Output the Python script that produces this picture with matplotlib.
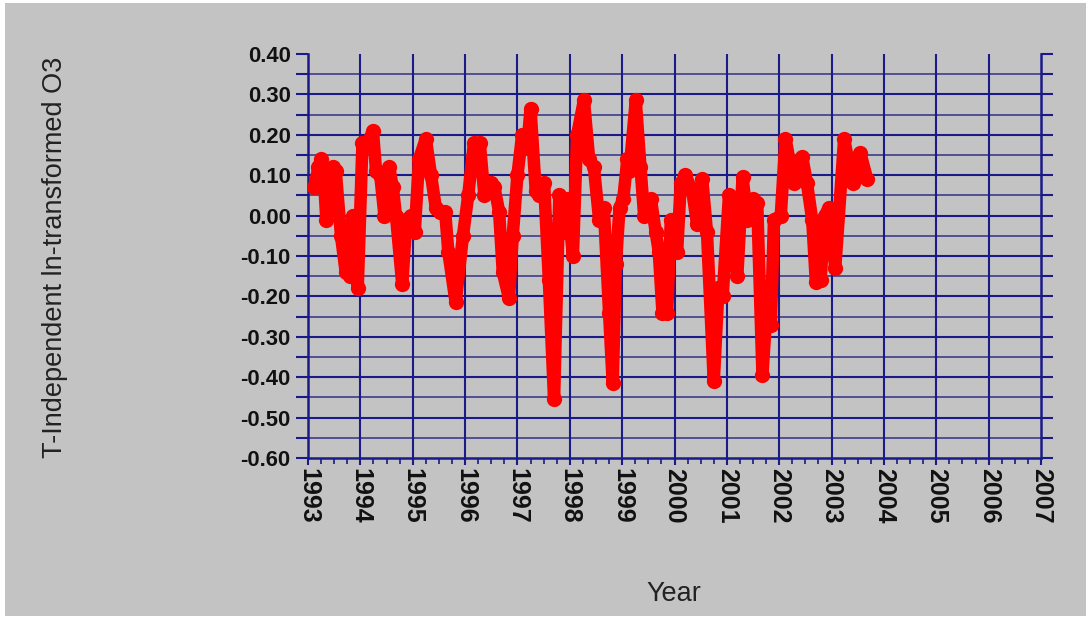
import matplotlib
matplotlib.use("Agg")
import matplotlib.pyplot as plt
from matplotlib.patches import Rectangle
from matplotlib.ticker import FixedLocator, FixedFormatter, MultipleLocator
import numpy as np

# Time (decimal year) and T-independent ln-transformed O3 values
years = [
    1993.12, 1993.20, 1993.25, 1993.30, 1993.35, 1993.40, 1993.47, 1993.53,
    1993.63, 1993.72, 1993.80, 1993.85, 1993.95,
    1994.04, 1994.14, 1994.24, 1994.30, 1994.38, 1994.46, 1994.55, 1994.62,
    1994.68, 1994.80, 1994.88, 1994.96,
    1995.04, 1995.12, 1995.25, 1995.35, 1995.44, 1995.52, 1995.62, 1995.68,
    1995.82, 1995.96,
    1996.06, 1996.17, 1996.28, 1996.37, 1996.50, 1996.56, 1996.65, 1996.72,
    1996.84, 1996.91,
    1997.00, 1997.09, 1997.19, 1997.25, 1997.35, 1997.42, 1997.51, 1997.60,
    1997.70, 1997.80, 1997.89, 1997.96,
    1998.06, 1998.14, 1998.27, 1998.37, 1998.46, 1998.56, 1998.65, 1998.75,
    1998.82, 1998.88, 1998.95,
    1999.02, 1999.10, 1999.14, 1999.26, 1999.35, 1999.42, 1999.55, 1999.64,
    1999.70, 1999.77, 1999.86, 1999.93,
    2000.05, 2000.12, 2000.21, 2000.34, 2000.43, 2000.53, 2000.62, 2000.75,
    2000.84, 2000.92,
    2001.04, 2001.20, 2001.30, 2001.39, 2001.49, 2001.58, 2001.68, 2001.74,
    2001.84, 2001.90,
    2002.03, 2002.12, 2002.28, 2002.44, 2002.53, 2002.63, 2002.70, 2002.79,
    2002.87, 2002.95,
    2003.07, 2003.24, 2003.40, 2003.55, 2003.68,
]
o3_values = [
    0.07, 0.12, 0.14, 0.10, -0.01, 0.06, 0.12, 0.11,
    -0.05, -0.14, -0.15, 0.00, -0.18,
    0.18, 0.18, 0.21, 0.11, 0.10, 0.00, 0.12, 0.07,
    0.00, -0.17, -0.01, 0.00,
    -0.04, 0.14, 0.19, 0.10, 0.02, 0.01, 0.01, -0.09,
    -0.215, -0.05,
    0.05, 0.18, 0.18, 0.05, 0.08, 0.07, 0.01, -0.14,
    -0.205, -0.05,
    0.10, 0.20, 0.17, 0.265, 0.06, 0.05, 0.08, -0.16,
    -0.455, 0.05, -0.04, 0.04,
    -0.10, 0.20, 0.285, 0.14, 0.12, -0.01, 0.02, -0.24,
    -0.415, -0.12, 0.02,
    0.04, 0.14, 0.11, 0.285, 0.12, 0.00, 0.04, -0.04,
    -0.09, -0.24, -0.24, -0.01,
    -0.09, 0.08, 0.10, 0.06, -0.02, 0.09, -0.04, -0.41,
    -0.18, -0.20,
    0.05, -0.15, 0.095, -0.01, 0.04, 0.03, -0.395, -0.27,
    -0.27, -0.01,
    0.00, 0.19, 0.08, 0.145, 0.08, -0.01, -0.165, -0.16,
    0.00, 0.02,
    -0.13, 0.19, 0.08, 0.155, 0.09,
]

year_ticks = list(range(1993, 2008))
value_ticks = [-0.60, -0.50, -0.40, -0.30, -0.20, -0.10, 0.00, 0.10, 0.20, 0.30, 0.40]
value_labels = [f"{v:.2f}" for v in value_ticks]

BG = "#c3c3c3"
NAVY = "#1a1a88"
NAVY_MINOR = "#3c3c8c"
RED = "#ff0000"

fig = plt.figure(figsize=(10.86, 6.2), dpi=100, facecolor="white")
fig.patches.append(Rectangle((5 / 1086, 4 / 620), 1 - 5 / 1086, 613 / 620,
                             transform=fig.transFigure, facecolor=BG,
                             edgecolor="none", zorder=-10))

ax = fig.add_axes([308 / 1086, 1 - 458 / 620, (1041 - 308) / 1086, (458 - 54) / 620])
ax.set_facecolor(BG)
ax.set_xlim(1993, 2007)
ax.set_ylim(-0.60, 0.40)

# Grid: every 0.05 horizontally, every year vertically
for v in np.arange(-0.55, 0.40, 0.05):
    major = abs(round(v * 10) - v * 10) < 1e-6
    ax.axhline(v, color=NAVY if major else NAVY_MINOR,
               lw=1.5 if major else 1.2, zorder=1)
for yr in year_ticks[1:-1]:
    ax.axvline(yr, color=NAVY, lw=1.5, zorder=1)

ax.plot(years, o3_values, color=RED, lw=9, marker="o", markersize=11,
        markeredgewidth=0, solid_joinstyle="round", solid_capstyle="round",
        zorder=3)

for side in ("left", "bottom", "right"):
    ax.spines[side].set_color(NAVY)
    ax.spines[side].set_linewidth(1.8)
ax.spines["top"].set_visible(False)

ax.yaxis.set_major_locator(FixedLocator(value_ticks))
ax.yaxis.set_major_formatter(FixedFormatter(value_labels))
ax.yaxis.set_minor_locator(MultipleLocator(0.05))
ax.xaxis.set_major_locator(FixedLocator(year_ticks))
ax.xaxis.set_minor_locator(MultipleLocator(0.25))

ax.tick_params(axis="y", which="both", direction="out", length=8.5, width=1.5,
               color=NAVY, left=True, right=True, pad=4)
ax.tick_params(axis="x", which="major", direction="out", length=5, width=1.5,
               color=NAVY, pad=2)
ax.tick_params(axis="x", which="minor", direction="out", length=4, width=1.2,
               color=NAVY)

for lab in ax.get_yticklabels():
    lab.set_fontfamily("Liberation Sans")
    lab.set_fontweight("bold")
    lab.set_fontsize(15.8)
    lab.set_color("#111111")
ax.set_xticklabels([str(y) for y in year_ticks], rotation=270,
                   fontfamily="Liberation Sans", fontweight="bold",
                   fontsize=18, color="#111111", va="top", ha="center")

fig.text(55 / 1086, 1 - 257 / 620, "T-Independent ln-transformed O3",
         rotation=90, ha="center", va="center", fontsize=19.5,
         fontfamily="Liberation Sans", color="#222222")
fig.text(674 / 1086, 1 - 594 / 620, "Year", ha="center", va="center",
         fontsize=19.5, fontfamily="Liberation Sans", color="#222222")

fig.savefig("out.png", dpi=100, facecolor=fig.get_facecolor())
